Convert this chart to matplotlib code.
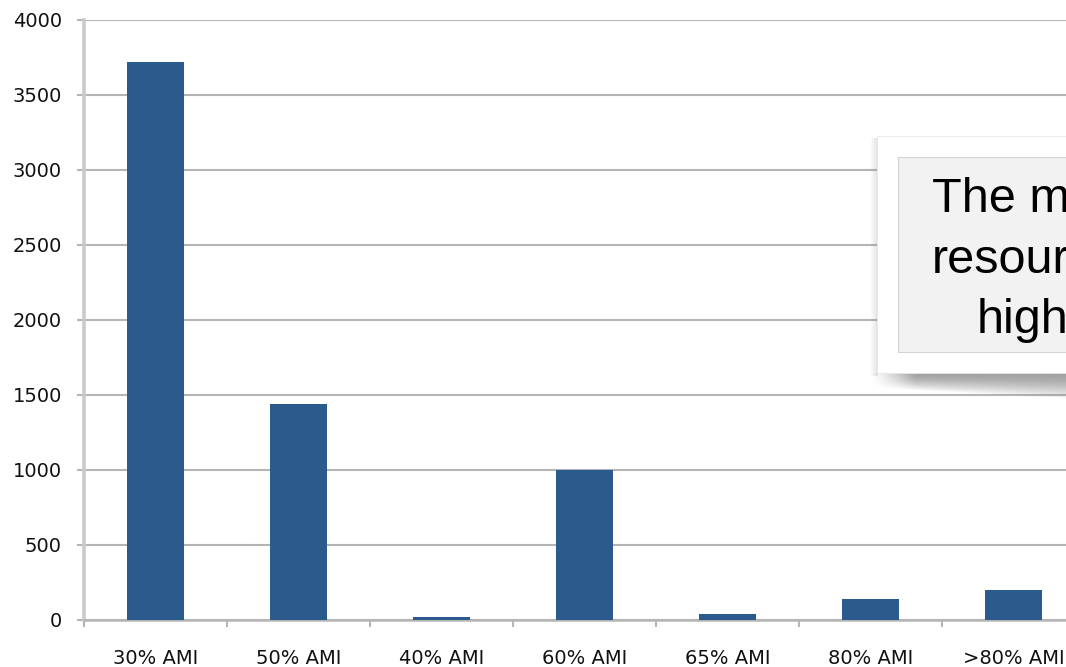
import numpy as np
import matplotlib
matplotlib.use("Agg")
import matplotlib.pyplot as plt
from matplotlib.patches import Rectangle

# Units by income band (share of Area Median Income)
categories = ["30% AMI", "50% AMI", "40% AMI", "60% AMI", "65% AMI", "80% AMI", ">80% AMI"]
units = [3720, 1435, 20, 1000, 35, 135, 200]
y_ticks = [0, 500, 1000, 1500, 2000, 2500, 3000, 3500, 4000]
callout_lines = ["The most", "resources", "highest"]

BAR = "#2a5b8c"
GRID = "#b5b5b5"
SPINE = "#cacaca"
TXT = "#111111"

W, H = 1066, 667
fig = plt.figure(figsize=(W / 100, H / 100), dpi=100)
fig.patch.set_facecolor("white")

# Plot area runs past the right edge of the canvas
ax = fig.add_axes([84 / W, 47.5 / H, 1001 / W, 600 / H])
x = np.arange(len(categories))
ax.bar(x, units, width=0.4, color=BAR, zorder=3)

ax.set_xlim(-0.5, len(categories) - 0.5)
ax.set_ylim(0, 4000)
ax.set_yticks(y_ticks)
ax.set_yticklabels([str(v) for v in y_ticks])
ax.yaxis.grid(True, color=GRID, linewidth=1.5, zorder=0)
ax.set_axisbelow(True)

# Category ticks sit between the bars
ax.set_xticks(x)
ax.set_xticklabels(categories)
ax.set_xticks(np.arange(len(categories) + 1) - 0.5, minor=True)
ax.tick_params(axis="x", which="major", length=0, pad=21, labelsize=14, labelcolor=TXT)
ax.tick_params(axis="x", which="minor", length=5, width=1.5, color=GRID, direction="out")
ax.tick_params(axis="y", length=5, width=1.5, color=GRID, pad=11, labelsize=14, labelcolor=TXT)

for s in ["top", "right"]:
    ax.spines[s].set_visible(False)
ax.spines["left"].set_color(SPINE)
ax.spines["left"].set_linewidth(2.6)
ax.spines["bottom"].set_color(GRID)
ax.spines["bottom"].set_linewidth(1.8)

# Overlay in pixel units for the callout
ov = fig.add_axes([0, 0, 1, 1], zorder=10)
ov.set_xlim(0, W)
ov.set_ylim(H, 0)
ov.axis("off")
ov.patch.set_alpha(0)

# curled drop shadow beneath the card
x0, x1, y0, y1 = 868, W, 370, 404
xs = np.arange(x0, x1) + 0.5
ys = np.arange(y0, y1) + 0.5
XX, YY = np.meshgrid(xs, ys)
bottom = 388 + 11 * (XX - 873) / (W - 873)
t = np.clip((YY - 373) / (bottom - 373), 0, 1)
fade_y = (1 - t ** 1.6)
fade_x = np.clip((XX - 870) / 45, 0, 1) ** 1.3
alpha = 0.62 * fade_y * fade_x
alpha[YY < 373] = 0
rgba = np.zeros(XX.shape + (4,))
rgba[..., :3] = 0.40
rgba[..., 3] = alpha
ov.imshow(rgba, extent=(x0, x1, y1, y0), interpolation="bilinear", zorder=1, aspect="auto")

# soft edge on the left side of the card
xs2 = np.arange(870, 878) + 0.5
ys2 = np.arange(138, 376) + 0.5
XX2, YY2 = np.meshgrid(xs2, ys2)
a2 = 0.2 * np.clip((XX2 - 870) / 7, 0, 1)
rgba2 = np.zeros(XX2.shape + (4,))
rgba2[..., :3] = 0.5
rgba2[..., 3] = a2
ov.imshow(rgba2, extent=(870, 878, 376, 138), interpolation="bilinear", zorder=1, aspect="auto")

ov.add_patch(Rectangle((877, 136), 300, 237, facecolor="white", edgecolor="#e6e6e6",
                       linewidth=0.6, zorder=2))
ov.add_patch(Rectangle((898, 157), 300, 195, facecolor="#f2f2f2", edgecolor="#d4d4d4",
                       linewidth=0.8, zorder=3))

for text, tx, ty in zip(callout_lines, [932, 932, 977], [212, 273, 333]):
    ov.text(tx, ty, text, fontsize=35, family="Liberation Sans", color="black",
            ha="left", va="baseline", zorder=4, clip_on=False)

fig.savefig("out.png", dpi=100, facecolor="white")
